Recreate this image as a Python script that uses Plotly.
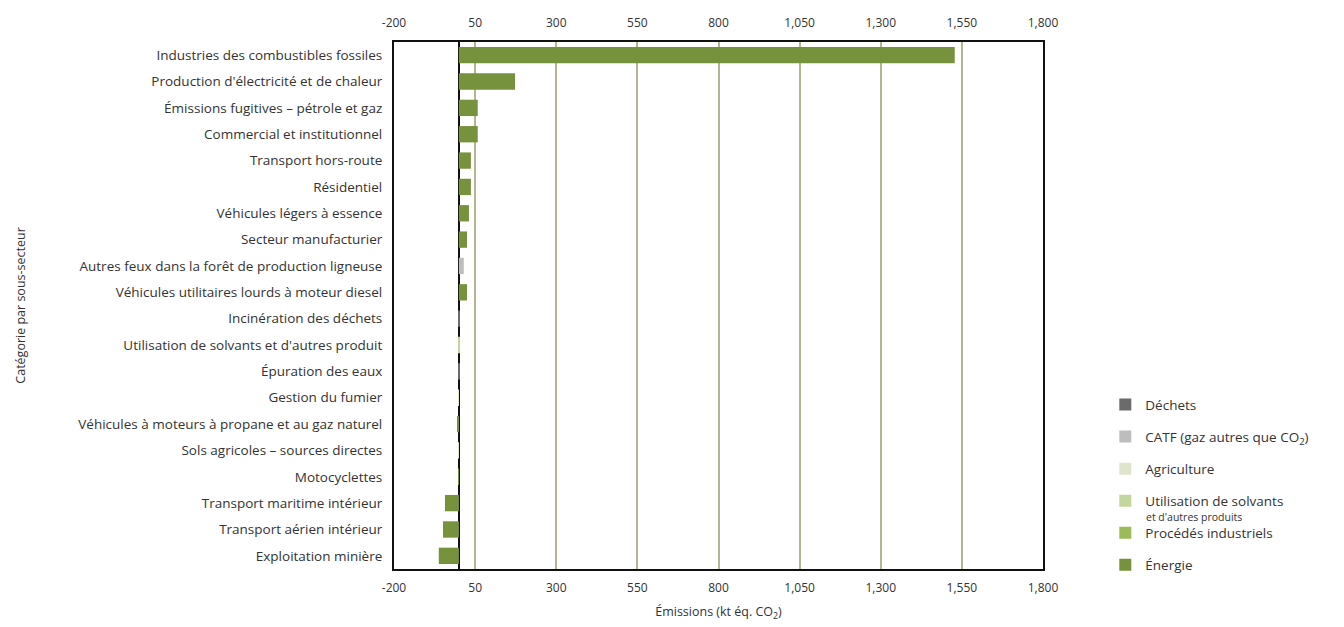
import plotly.graph_objects as go

categories = [
    "Industries des combustibles fossiles",
    "Production d'électricité et de chaleur",
    "Émissions fugitives – pétrole et gaz",
    "Commercial et institutionnel",
    "Transport hors-route",
    "Résidentiel",
    "Véhicules légers à essence",
    "Secteur manufacturier",
    "Autres feux dans la forêt de production ligneuse",
    "Véhicules utilitaires lourds à moteur diesel",
    "Incinération des déchets",
    "Utilisation de solvants et d'autres produit",
    "Épuration des eaux",
    "Gestion du fumier",
    "Véhicules à moteurs à propane et au gaz naturel",
    "Sols agricoles – sources directes",
    "Motocyclettes",
    "Transport maritime intérieur",
    "Transport aérien intérieur",
    "Exploitation minière",
]

sector_of = [
    "Énergie", "Énergie", "Énergie", "Énergie", "Énergie", "Énergie", "Énergie", "Énergie",
    "CATF", "Énergie", "Déchets", "Solvants", "Déchets", "Agriculture", "Énergie",
    "Agriculture", "Énergie", "Énergie", "Énergie", "Énergie",
]

values = [1528, 173, 58, 58, 37, 37, 31, 25, 15, 25, 2, 1, 2, -2, -3, -2, -2, -43, -49, -62]

sectors = ["Déchets", "CATF", "Agriculture", "Solvants", "Procédés industriels", "Énergie"]
sector_labels = [
    "Déchets",
    "CATF (gaz autres que CO<sub>2</sub>)",
    "Agriculture",
    "Utilisation de solvants",
    "Procédés industriels",
    "Énergie",
]
solvants_subline = "et d'autres produits"
sector_colors = ["#6b6b6b", "#bdbdbd", "#dfe5cd", "#c3d69b", "#9bbb59", "#76923c"]

tick_vals = [-200, 50, 300, 550, 800, 1050, 1300, 1550, 1800]
tick_text = ["-200", "50", "300", "550", "800", "1,050", "1,300", "1,550", "1,800"]

fig = go.Figure()
for s, lab, col in zip(sectors, sector_labels, sector_colors):
    xs = [v if sec == s else None for v, sec in zip(values, sector_of)]
    fig.add_trace(go.Bar(
        y=categories, x=xs, orientation="h", name=lab,
        marker=dict(color=col, line=dict(width=0)),
        legendgroup=s,
    ))

# invisible trace to activate the top axis
fig.add_trace(go.Bar(x=[None], y=[categories[0]], xaxis="x2", orientation="h",
                     showlegend=False, hoverinfo="skip"))

font_family = "Open Sans, Lato, sans-serif"
n = len(categories)

fig.update_layout(
    width=1344, height=627,
    margin=dict(l=386, r=309, t=34, b=66, autoexpand=False),
    barmode="relative",
    bargap=0.38,
    plot_bgcolor="white",
    paper_bgcolor="white",
    font=dict(family=font_family, size=12, color="#333333"),
    showlegend=True,
    legend=dict(
        x=1.096, xanchor="left", y=0.341, yanchor="top",
        traceorder="grouped", tracegroupgap=11.5,
        font=dict(size=13.5, color="#333333"),
        itemwidth=30,
    ),
    xaxis=dict(
        range=[-200, 1800],
        tickvals=tick_vals, ticktext=tick_text,
        showgrid=True, gridcolor="#b5b591", gridwidth=2,
        zeroline=True, zerolinecolor="#111111", zerolinewidth=1.5,
        showline=True, linecolor="#111111", linewidth=2, mirror=True,
        title=dict(text="Émissions (kt éq. CO<sub>2</sub>)", font=dict(size=12.5), standoff=12),
        tickfont=dict(size=12),
        ticklabelstandoff=7,
        automargin=False,
    ),
    xaxis2=dict(
        range=[-200, 1800], overlaying="x", side="top", matches="x",
        tickvals=tick_vals, ticktext=tick_text,
        showgrid=False, zeroline=False, showline=False,
        tickfont=dict(size=12),
        ticklabelstandoff=12,
        automargin=False,
    ),
    yaxis=dict(
        range=[n - 0.5, -0.5],
        showgrid=False,
        showline=True, linecolor="#111111", linewidth=2, mirror=True,
        tickfont=dict(size=13.5),
        ticksuffix="  ",
        automargin=False,
    ),
    annotations=[
        dict(
            text="Catégorie par sous-secteur", textangle=-90,
            xref="paper", yref="paper", x=-0.576, y=0.5,
            xanchor="center", yanchor="middle", showarrow=False,
            font=dict(size=12.5, color="#333333"),
        ),
        dict(
            text=solvants_subline,
            xref="paper", yref="paper", x=1.156, y=0.099,
            xanchor="left", yanchor="middle", showarrow=False,
            font=dict(size=10.5, color="#333333"),
        ),
    ],
)

fig.write_html("out.html")
